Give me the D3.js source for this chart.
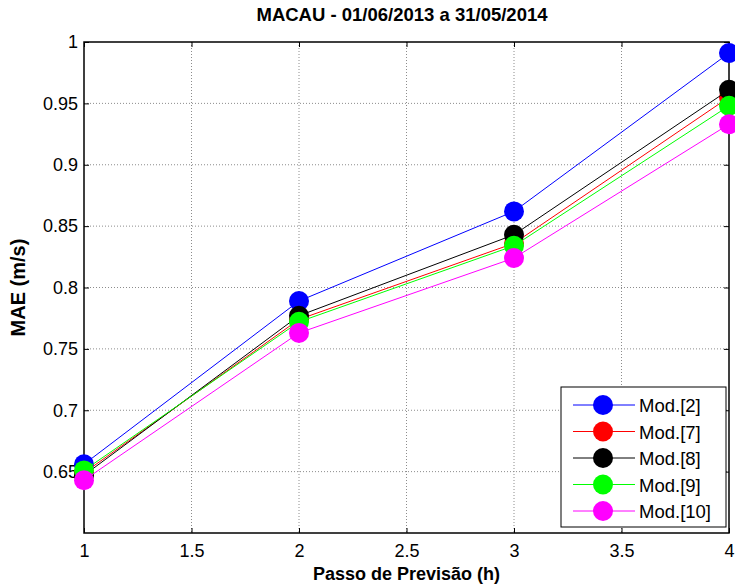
<!DOCTYPE html>
<html>
<head>
<meta charset="utf-8">
<script src="https://cdn.jsdelivr.net/npm/d3@7"></script>
<style>
  body { margin: 0; background: #fff; }
  svg { display: block; font-family: Arial, "Liberation Sans", sans-serif; }
  .grid line { stroke: #8c8c8c; stroke-dasharray: 1,2; stroke-width: 1; }
</style>
</head>
<body>
<svg width="735" height="584"></svg>
<script>
const steps = [1, 2, 3, 4]
const seriesNames = ["Mod.[2]", "Mod.[7]", "Mod.[8]", "Mod.[9]", "Mod.[10]"]
const seriesColors = ["#0000ff", "#ff0000", "#000000", "#00ff00", "#ff00ff"]
const mod2 = [0.656, 0.789, 0.862, 0.991]
const mod7 = [0.649, 0.774, 0.836, 0.955]
const mod8 = [0.647, 0.777, 0.843, 0.961]
const mod9 = [0.651, 0.772, 0.834, 0.948]
const mod10 = [0.643, 0.763, 0.824, 0.933]
const xTicks = [1, 1.5, 2, 2.5, 3, 3.5, 4]
const yTicks = [0.65, 0.7, 0.75, 0.8, 0.85, 0.9, 0.95, 1]

function drawChart(){
    const series = [mod2, mod7, mod8, mod9, mod10].map((vals, i) => ({
        name: seriesNames[i],
        color: seriesColors[i],
        points: vals.map((v, j) => ({x: steps[j], y: v}))
    }))

    const left = 84, right = 729, top = 42, bottom = 533
    const svg = d3.select("svg")

    const x = d3.scaleLinear().domain([1, 4]).range([left, right])
    const y = d3.scaleLinear().domain([0.6, 1]).range([bottom, top])

    // grid
    const grid = svg.append("g").attr("class", "grid")
    grid.selectAll("line.gx")
        .data(xTicks.slice(1, -1))
        .enter()
        .append("line")
        .attr("x1", d => x(d)).attr("x2", d => x(d))
        .attr("y1", top).attr("y2", bottom)
    grid.selectAll("line.gy")
        .data(yTicks.slice(0, -1))
        .enter()
        .append("line")
        .attr("class", "gy")
        .attr("x1", left).attr("x2", right)
        .attr("y1", d => y(d)).attr("y2", d => y(d))

    // axes with inward ticks
    const axisStyle = g => {
        g.select(".domain").remove()
        g.selectAll(".tick line").attr("stroke", "#000")
    }
    svg.append("g")
        .attr("transform", `translate(0,${bottom})`)
        .call(d3.axisBottom(x).tickValues(xTicks).tickSize(-5).tickPadding(11).tickFormat(d3.format("")))
        .call(axisStyle)
        .selectAll("text").attr("font-size", 18).attr("fill", "#000")
    svg.append("g")
        .attr("transform", `translate(0,${top})`)
        .call(d3.axisTop(x).tickValues(xTicks).tickSize(-5).tickFormat(""))
        .call(axisStyle)
    svg.append("g")
        .attr("transform", `translate(${left},0)`)
        .call(d3.axisLeft(y).tickValues(yTicks).tickSize(-5).tickPadding(6).tickFormat(d3.format("")))
        .call(axisStyle)
        .selectAll("text").attr("font-size", 18).attr("fill", "#000")
    svg.append("g")
        .attr("transform", `translate(${right},0)`)
        .call(d3.axisRight(y).tickValues(yTicks).tickSize(-5).tickFormat(""))
        .call(axisStyle)

    svg.append("rect")
        .attr("x", left).attr("y", top)
        .attr("width", right - left).attr("height", bottom - top)
        .attr("fill", "none").attr("stroke", "#000").attr("stroke-width", 1.5)

    // lines and markers
    const line = d3.line().x(d => x(d.x)).y(d => y(d.y))
    const sG = svg.append("g")
        .selectAll("g")
        .data(series)
        .enter()
        .append("g")
    sG.append("path")
        .attr("d", d => line(d.points))
        .attr("fill", "none")
        .attr("stroke", d => d.color)
        .attr("stroke-width", 1)
    sG.selectAll("circle")
        .data(d => d.points.map(p => ({...p, color: d.color})))
        .enter()
        .append("circle")
        .attr("cx", d => x(d.x))
        .attr("cy", d => y(d.y))
        .attr("r", 10)
        .attr("fill", d => d.color)

    // title and labels
    svg.append("text")
        .attr("x", 402).attr("y", 21)
        .attr("text-anchor", "middle")
        .attr("font-weight", "bold").attr("font-size", 18.5)
        .text("MACAU - 01/06/2013 a 31/05/2014")
    svg.append("text")
        .attr("x", (left + right) / 2).attr("y", 580)
        .attr("text-anchor", "middle")
        .attr("font-weight", "bold").attr("font-size", 18)
        .text("Passo de Previsão (h)")
    svg.append("text")
        .attr("transform", `translate(25,${(top + bottom) / 2}) rotate(-90)`)
        .attr("text-anchor", "middle")
        .attr("font-weight", "bold").attr("font-size", 20)
        .text("MAE (m/s)")

    // legend
    const lg = svg.append("g").attr("transform", "translate(561,387)")
    lg.append("rect")
        .attr("width", 165).attr("height", 140)
        .attr("fill", "#fff").attr("stroke", "#000").attr("stroke-width", 1)
    const item = lg.selectAll("g.item")
        .data(series)
        .enter()
        .append("g")
        .attr("class", "item")
        .attr("transform", (d, i) => `translate(0,${18 + i * 26.5})`)
    item.append("line")
        .attr("x1", 12).attr("x2", 74)
        .attr("stroke", d => d.color).attr("stroke-width", 1)
    item.append("circle")
        .attr("cx", 42).attr("r", 10)
        .attr("fill", d => d.color)
    item.append("text")
        .attr("x", 78).attr("y", 7)
        .attr("font-size", 18.5)
        .text(d => d.name)
}

drawChart()
</script>
</body>
</html>
